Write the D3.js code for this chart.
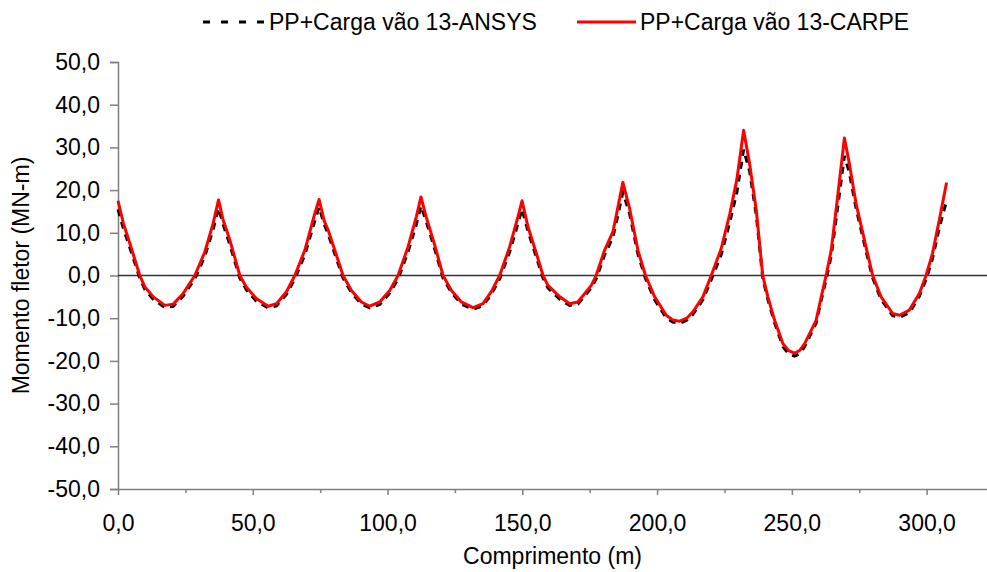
<!DOCTYPE html>
<html>
<head>
<meta charset="utf-8">
<script src="https://cdn.jsdelivr.net/npm/d3@7"></script>
<style>
  body { margin: 0; background: #fff; }
  svg text { font-family: Arial, "Liberation Sans", sans-serif; fill: #000; }
</style>
</head>
<body>
<svg id="chart" width="987" height="572"></svg>
<script>
// Position along the deck (m)
const posicao = [
  0, 2.0, 4.4, 8.1, 10.0, 13.1, 17.4, 20.5, 24.2, 28.5, 32.2, 35.3, 37.3,
  39.0, 41.5, 45.2, 47.6, 51.3, 55.7, 58.8, 62.5, 65.6, 69.3, 73.0, 74.6,
  76.5, 78.0, 83.5, 86.6, 90.3, 93.4, 97.1, 100.8, 103.9, 107.6, 110.7, 112.4,
  114.3, 117.5, 120.6, 123.7, 127.4, 131.7, 135.4, 138.5, 141.6, 145.3, 148.4, 149.9,
  152.1, 155.2, 157.7, 159.5, 163.9, 167.6, 170.6, 175.6, 177.4, 180.5, 183.6, 185.5, 187.3,
  189.8, 192.9, 195.7, 199.1, 203.4, 205.8, 208.4, 211.0, 213.3, 217.0, 220.1, 223.8, 227.0, 229.6, 232.1,
  234.3, 236.8, 239.2, 241.1, 243.6, 246.7, 248.8, 251.0, 253.0, 254.7, 259.0, 260.9, 262.7, 264.6, 267.0, 269.5,
  271.3, 273.8, 277.5, 280.0, 283.1, 287.4, 289.9, 293.6, 297.3, 299.8, 302.2, 304.7, 307.4
];

// Bending moment (MN-m), ANSYS model
const momentoAnsys = [
  15.5, 11.0, 6.5, -0.6, -3.3, -5.6, -7.5, -7.2, -4.8, -0.8, 4.5, 10.8, 15.8,
  12.0, 7.2, -0.6, -3.3, -6.0, -7.6, -7.1, -4.4, -0.8, 4.8, 12.8, 16.0,
  12.0, 9.6, -0.6, -4.0, -6.7, -7.6, -6.8, -4.1, -0.8, 5.5, 12.0, 16.3,
  12.8, 6.2, -0.6, -4.0, -6.7, -7.9, -7.1, -4.4, -0.8, 5.5, 12.2, 15.6,
  10.4, 4.3, -0.6, -2.9, -5.6, -7.0, -6.7, -2.9, -0.8, 4.8, 8.9, 14.2, 19.5,
  14.5, 5.0, -0.7, -5.7, -9.9, -10.9, -11.2, -10.5, -9.1, -5.7, -1.0, 4.9, 12.5, 19.5, 29.5,
  24.5, 14.2, -0.6, -5.6, -11.1, -16.7, -18.3, -18.9, -18.3, -16.7, -11.2, -5.8, -1.0, 4.6, 16.0, 28.0,
  24.2, 15.8, 5.8, -0.6, -5.6, -9.4, -9.8, -8.7, -4.9, -0.9, 4.0, 11.2, 17.5
];

// Bending moment (MN-m), CARPE model
const momentoCarpe = [
  17.5, 12.2, 7.5, 0, -2.7, -5.0, -7.0, -6.7, -4.2, 0, 5.5, 12.2, 17.7,
  13.0, 8.3, 0, -2.7, -5.4, -7.2, -6.6, -3.8, 0, 5.9, 14.5, 17.8,
  12.8, 10.6, 0, -3.5, -6.2, -7.2, -6.2, -3.5, 0, 6.7, 13.8, 18.4,
  13.8, 7.1, 0, -3.5, -6.2, -7.5, -6.6, -3.8, 0, 6.7, 13.8, 17.5,
  11.4, 5.2, 0, -2.3, -5.0, -6.6, -6.2, -2.3, 0, 5.9, 10.2, 16.1, 21.8,
  15.7, 5.9, 0, -5.0, -9.3, -10.4, -10.7, -10.0, -8.5, -5.0, 0, 6.3, 14.5, 22.5, 34.0,
  26.3, 15.3, 0, -5.0, -10.5, -16.0, -17.6, -18.2, -17.5, -16.0, -10.5, -5.0, 0, 5.9, 18.5, 32.2,
  26.3, 16.9, 6.7, 0, -5.0, -8.9, -9.3, -8.1, -4.2, 0, 5.2, 13.0, 21.8
];

const seriesNames = ["PP+Carga vão 13-ANSYS", "PP+Carga vão 13-CARPE"];
const xMajorTicks = [0, 50, 100, 150, 200, 250, 300];
const xMinorTicks = [25, 75, 125, 175, 225, 275];
const yTicks = [-50, -40, -30, -20, -10, 0, 10, 20, 30, 40, 50];
const xTitle = "Comprimento (m)";
const yTitle = "Momento fletor (MN-m)";

const svg = d3.select("#chart");
const plot = { left: 118, right: 987, top: 62, bottom: 489 };
const fontSize = 23;

const x = d3.scaleLinear().domain([0, 322.4]).range([plot.left, plot.right]);
const y = d3.scaleLinear().domain([-50, 50]).range([plot.bottom, plot.top]);

const br = d3.formatLocale({ decimal: ",", thousands: ".", grouping: [3], currency: ["", ""], minus: "-" });
const fmt = br.format(".1f");

const axisColor = "#7f7f7f";

// Y axis
const gy = svg.append("g").attr("transform", `translate(${plot.left},0)`)
  .call(d3.axisLeft(y).tickValues(yTicks).tickFormat(fmt).tickSize(8).tickPadding(10));
gy.select(".domain").attr("stroke", axisColor).attr("stroke-width", 1.5);
gy.selectAll(".tick line").attr("stroke", axisColor).attr("stroke-width", 1.5);
gy.selectAll("text").attr("font-size", fontSize).attr("fill", "#000");

// X axis: minor ticks, then labelled major ticks
const gxMinor = svg.append("g").attr("transform", `translate(0,${plot.bottom})`)
  .call(d3.axisBottom(x).tickValues(xMinorTicks).tickFormat("").tickSize(4).tickSizeOuter(0));
gxMinor.select(".domain").remove();
gxMinor.selectAll(".tick line").attr("stroke", axisColor).attr("stroke-width", 1.5);

const gx = svg.append("g").attr("transform", `translate(0,${plot.bottom})`)
  .call(d3.axisBottom(x).tickValues(xMajorTicks).tickFormat(fmt).tickSize(6).tickSizeOuter(0).tickPadding(20));
gx.select(".domain").attr("stroke", axisColor).attr("stroke-width", 1.5);
gx.selectAll(".tick line").attr("stroke", axisColor).attr("stroke-width", 1.5);
gx.selectAll("text").attr("font-size", fontSize).attr("fill", "#000");

// Zero line
svg.append("line")
  .attr("x1", x(0)).attr("x2", plot.right)
  .attr("y1", y(0)).attr("y2", y(0))
  .attr("stroke", "#333").attr("stroke-width", 1.5);

// Series
const idx = d3.range(posicao.length);
const line = vals => d3.line().x(i => x(posicao[i])).y(i => y(vals[i]))(idx);

svg.append("path")
  .attr("d", line(momentoAnsys))
  .attr("fill", "none").attr("stroke", "#000").attr("stroke-width", 3)
  .attr("stroke-dasharray", "7,6");

svg.append("path")
  .attr("d", line(momentoCarpe))
  .attr("fill", "none").attr("stroke", "#ff0000").attr("stroke-width", 3)
  .attr("stroke-linejoin", "round");

// Axis titles
svg.append("text")
  .attr("x", (plot.left + plot.right) / 2).attr("y", 564)
  .attr("text-anchor", "middle").attr("font-size", fontSize)
  .text(xTitle);

svg.append("text")
  .attr("transform", `translate(29,${(plot.top + plot.bottom) / 2}) rotate(-90)`)
  .attr("text-anchor", "middle").attr("font-size", fontSize)
  .text(yTitle);

// Legend
const legend = [
  { name: seriesNames[0], x1: 203, x2: 266, tx: 269, color: "#000", dash: "7,11" },
  { name: seriesNames[1], x1: 577, x2: 636, tx: 640, color: "#ff0000", dash: null }
];
const lg = svg.append("g");
legend.forEach(d => {
  lg.append("line")
    .attr("x1", d.x1).attr("x2", d.x2).attr("y1", 22).attr("y2", 22)
    .attr("stroke", d.color).attr("stroke-width", 3)
    .attr("stroke-dasharray", d.dash);
  lg.append("text")
    .attr("x", d.tx).attr("y", 30)
    .attr("font-size", fontSize)
    .text(d.name);
});
</script>
</body>
</html>
